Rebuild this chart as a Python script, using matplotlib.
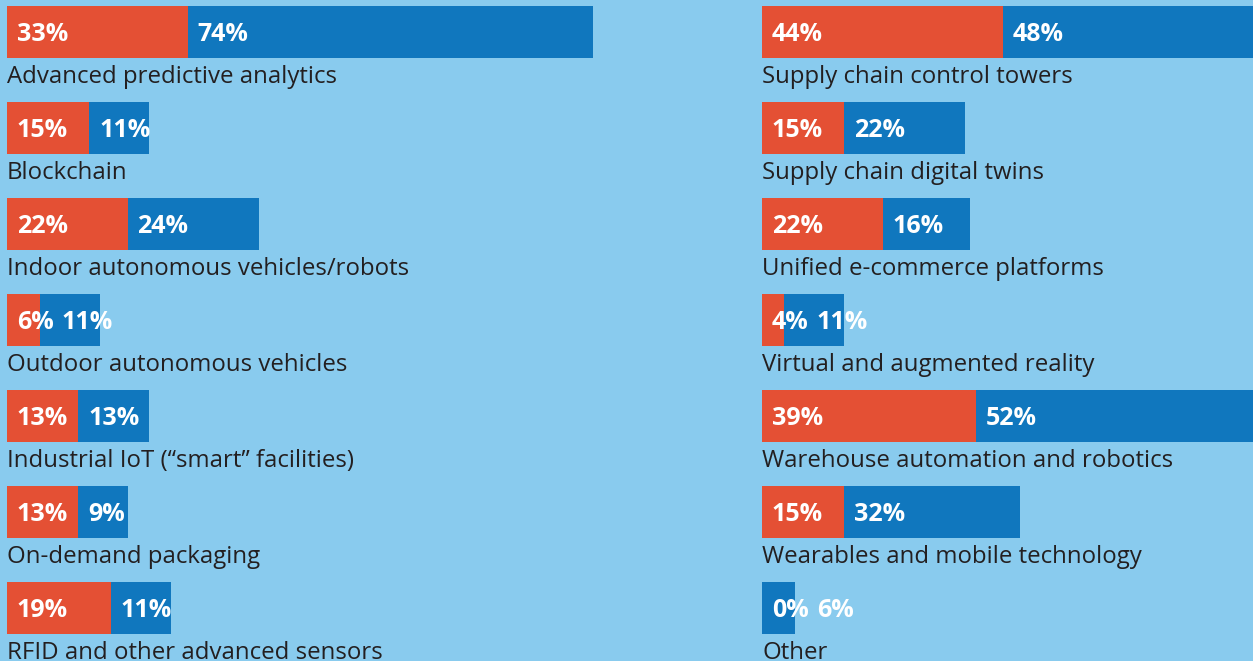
import matplotlib
matplotlib.use('Agg')
import matplotlib.pyplot as plt

# data
left_names = ['Advanced predictive analytics', 'Blockchain', 'Indoor autonomous vehicles/robots',
              'Outdoor autonomous vehicles', 'Industrial IoT (\u201csmart\u201d facilities)',
              'On-demand packaging', 'RFID and other advanced sensors']
left_red = [33, 15, 22, 6, 13, 13, 19]
left_blue = [74, 11, 24, 11, 13, 9, 11]

right_names = ['Supply chain control towers', 'Supply chain digital twins', 'Unified e-commerce platforms',
               'Virtual and augmented reality', 'Warehouse automation and robotics',
               'Wearables and mobile technology', 'Other']
right_red = [44, 15, 22, 4, 39, 15, 0]
right_blue = [48, 22, 16, 11, 52, 32, 6]

BG = '#89CBEE'
RED = '#E45034'
BLUE = '#1077BE'
TXT = '#231F20'

plt.rcParams['font.family'] = ['Open Sans', 'DejaVu Sans']

W, H = 1253, 661
PX = 5.48  # pixels per percent
fig = plt.figure(figsize=(W / 100, H / 100), dpi=100)
fig.patch.set_facecolor(BG)


def draw_column(x0, names, red, blue):
    ax = fig.add_axes([x0 / W, 0, (W - x0) / W, 1])
    ax.set_facecolor(BG)
    ax.set_xlim(0, (W - x0) / PX)
    ax.set_ylim((H - 32) / 96, -32 / 96)
    ax.axis('off')
    rows = range(len(names))
    ax.barh(rows, red, height=52 / 96, color=RED, align='center')
    ax.barh(rows, blue, left=red, height=52 / 96, color=BLUE, align='center')
    for i in rows:
        ax.text(1.8, i + 0.094, f'{red[i]}%', color='white', fontsize=18,
                fontweight='bold', va='baseline', ha='left')
        ax.text(max(red[i], 8.2) + 1.8, i + 0.094, f'{blue[i]}%', color='white',
                fontsize=18, fontweight='bold', va='baseline', ha='left')
        ax.text(0, i + 0.53, names[i], color=TXT, fontsize=17.3, va='baseline', ha='left')


draw_column(7, left_names, left_red, left_blue)
draw_column(762, right_names, right_red, right_blue)

fig.savefig('out.png', dpi=100, facecolor=BG)
